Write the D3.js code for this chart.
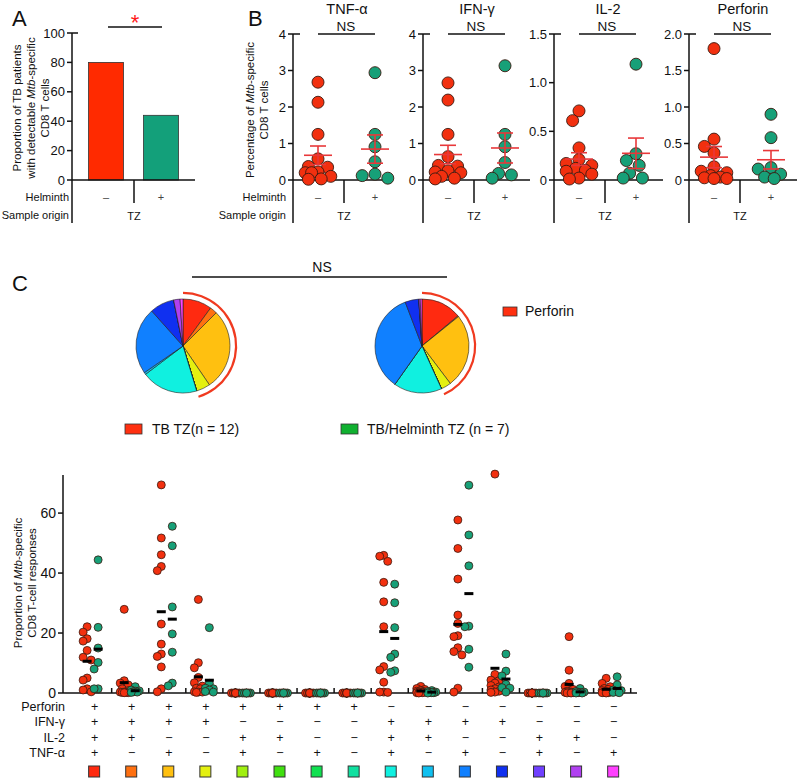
<!DOCTYPE html>
<html><head><meta charset="utf-8">
<script src="https://cdn.jsdelivr.net/npm/d3@7"></script>
<style>
body{margin:0;background:#fff}
text{font-family:"Liberation Sans",Arial,Helvetica,sans-serif;fill:#111}
</style>
</head><body>
<svg id="c" width="798" height="779"></svg>
<script>
// ---------------- DATA ----------------
const groups = ["–", "+"];
// Panel A
const aValues = [80, 44];
const aTicks = [0, 20, 40, 60, 80, 100];
// Panel B
const bPanels = ["TNF-α", "IFN-γ", "IL-2", "Perforin"];
const bMax = [4, 4, 1.5, 2.0];
const bTicks = [[0,1,2,3,4],[0,1,2,3,4],[0,0.5,1.0,1.5],[0,0.5,1.0,1.5,2.0]];
const bTickLabels = [["0","1","2","3","4"],["0","1","2","3","4"],["0","0.5","1.0","1.5"],["0","0.5","1.0","1.5","2.0"]];
const tnfTB  = [2.68,2.13,1.25,0.58,0.37,0.35,0.22,0.20,0.20,0.10,0.03,0.02];
const tnfHel = [2.94,1.25,0.91,0.50,0.16,0.12,0.05];
const ifnTB  = [2.66,2.19,1.25,0.64,0.40,0.38,0.25,0.22,0.20,0.10,0.05,0.03];
const ifnHel = [3.13,1.25,0.91,0.48,0.18,0.14,0.05];
const il2TB  = [0.71,0.61,0.33,0.21,0.17,0.15,0.12,0.10,0.09,0.06,0.02,0.01];
const il2Hel = [1.19,0.27,0.20,0.15,0.07,0.02,0.02];
const perTB  = [1.80,0.56,0.46,0.37,0.18,0.12,0.10,0.06,0.04,0.03,0.02,0.02];
const perHel = [0.90,0.58,0.17,0.15,0.08,0.04,0.02];
// Panel C pies (percent of response)
const pieTB  = [10.0,2.5,28.0,4.8,0,0,0,0,19.4,0.7,23.0,8.4,0,2.2,1.0];
const pieHel = [13.9,0.3,25.5,3.5,0,0,0,0,16.6,0,34.4,4.7,0,0.5,0.6];
// Panel C scatter: 15 combinations
const rowPerforin = ["+","+","+","+","+","+","+","+","−","−","−","−","−","−","−"];
const rowIFN      = ["+","+","+","+","−","−","−","−","+","+","+","+","−","−","−"];
const rowIL2      = ["+","+","−","−","+","+","−","−","+","+","−","−","+","+","−"];
const rowTNF      = ["+","−","+","−","+","−","+","−","+","−","+","−","+","−","+"];
const cTicks = [0, 20, 40, 60];
const tbData = [
  [22.1,20.3,18.1,17.3,14.2,11.9,11.0,5.0,4.3,1.4,1.0,0.4],
  [27.9,4.1,3.3,2.7,1.4,0.8,0.3,0.3,0.2,0.2,0.1,0.1],
  [69.4,51.7,46.1,42.2,40.8,23.0,16.3,13.0,12.2,8.7,1.4,0.4],
  [31.2,10.1,8.4,5.2,3.4,2.3,1.6,1.4,0.4,0.3,0.3,0.2],
  [0,0,0,0,0,0,0,0,0,0,0,0],
  [0,0,0,0,0,0,0,0,0,0,0,0],
  [0,0,0,0,0,0,0,0,0,0,0,0],
  [0,0,0,0,0,0,0,0,0,0,0,0],
  [45.9,45.6,43.9,36.9,30.4,22.1,8.8,7.7,3.6,0.3,0.3,0.2],
  [2.2,1.5,1.2,0.9,0.6,0.5,0.4,0.3,0.2,0.1,0.1,0.0],
  [57.7,48.2,38.0,26.0,23.2,19.1,18.8,15.1,13.8,12.7,1.6,0.3],
  [73.0,6.2,4.3,4.1,3.3,2.5,2.0,1.4,1.0,0.6,0.3,0.2],
  [0,0,0,0,0,0,0,0,0,0,0,0],
  [18.8,7.6,3.2,2.2,1.2,0.6,0.3,0.2,0.1,0.1,0,0],
  [4.9,3.2,2.1,1.5,1.2,0.8,0.5,0.3,0.2,0.1,0.1,0]
];
const helData = [
  [44.4,21.9,15.0,10.2,8.0,1.4,1.4],
  [2.1,1.0,0.7,0.6,0.4,0.3,0.2],
  [55.6,49.1,28.7,19.7,13.6,3.3,2.4],
  [21.8,3.2,1.6,1.4,1.0,0.5,0.3],
  [0,0,0,0,0,0,0],
  [0,0,0,0,0,0,0],
  [0,0,0,0,0,0,0],
  [0,0,0,0,0,0,0],
  [36.3,30.1,21.8,13.0,11.9,7.4,6.9],
  [0.8,0.5,0.3,0.2,0.1,0.1,0.0],
  [69.3,52.7,42.4,22.3,22.1,14.6,8.6],
  [13.0,7.3,5.7,2.9,1.8,1.6,0.3],
  [0,0,0,0,0,0,0],
  [1.5,0.5,0.3,0.2,0.1,0,0],
  [5.4,2.7,1.0,0.8,0.4,0.2,0.1]
];

// ---------------- STYLE ----------------
const catColors = ["#ff2a10","#ff7010","#ffc010","#e4f010","#a0f010","#40e010","#10e050","#10e0a0",
                   "#10f0e0","#10c0f0","#1080ff","#1030f0","#7040ff","#b040f0","#ff40ff"];
const RED = "#f2300f", GREEN = "#17a078", ERR = "#e8383a", DOTSTROKE = "#3a1a10", AX = "#111";

const svg = d3.select("#c");
function line(x1,y1,x2,y2,col,w){ return svg.append("line").attr("x1",x1).attr("y1",y1).attr("x2",x2).attr("y2",y2).attr("stroke",col||AX).attr("stroke-width",w||1.5); }
function txt(x,y,s,size,anchor){ return svg.append("text").attr("x",x).attr("y",y).attr("font-size",size).attr("text-anchor",anchor||"middle").text(s); }

function swarm(values, y, cx, r, step, maxK) {
  const placed = [], out = new Array(values.length);
  const order = values.map((v,i)=>i).sort((a,b)=>values[b]-values[a]);
  order.forEach(i => {
    const py = y(values[i]);
    let best = cx, bestD = -1;
    for (let k = 0; k <= maxK; k++) {
      for (const s of (k === 0 ? [0] : [-1, 1])) {
        const px = cx + s*k*step;
        let md = Infinity;
        placed.forEach(p => { md = Math.min(md, Math.hypot(p[0]-px, p[1]-py)); });
        if (md >= 2*r - 0.5) { best = px; bestD = Infinity; break; }
        if (md > bestD) { bestD = md; best = px; }
      }
      if (bestD === Infinity) break;
    }
    placed.push([best, py]); out[i] = [best, py];
  });
  return out;
}

// panel letters
txt(12,26,"A",22,"start");
txt(248,26,"B",22,"start");
txt(12,291,"C",22,"start");

// ---------------- PANEL A ----------------
{
  const ax = 72;
  const y = d3.scaleLinear().domain([0,100]).range([180,33]);
  const x = d3.scalePoint().domain(groups).range([106,161]);
  const bw = 35;
  svg.selectAll(".abar").data(aValues).join("rect")
    .attr("x",(d,i)=>x(groups[i])-bw/2).attr("width",bw)
    .attr("y",d=>y(d)).attr("height",d=>y(0)-y(d))
    .attr("fill",(d,i)=>i===0?"#ff2a00":"#13a07a").attr("stroke","#333").attr("stroke-width",0.8);
  line(ax,y(100),ax,223);
  aTicks.forEach(t=>{ line(ax-5,y(t),ax,y(t)); txt(ax-7,y(t)+4.5,String(t),13,"end"); });
  line(ax,y(100),ax+6,y(100));
  line(ax,180,195,180);
  line(134,180,134,203);
  groups.forEach(g=>txt(x(g),201,g,11,"middle").style("fill","#444"));
  txt(134,220,"TZ",11);
  txt(69,201,"Helminth",11,"end");
  txt(69,219,"Sample origin",11,"end");
  line(108,27,162,27);
  txt(135,30,"*",22).style("fill","#ff1a1a");
  const yt = svg.append("text").attr("transform","translate(0,108) rotate(-90)").attr("text-anchor","middle").attr("font-size",11.5);
  yt.append("tspan").attr("x",0).attr("y",21).text("Proportion of TB patients");
  yt.append("tspan").attr("x",0).attr("y",35).text("with detectable ");
  yt.append("tspan").attr("font-style","italic").text("Mtb");
  yt.append("tspan").text("-specific");
  yt.append("tspan").attr("x",0).attr("y",49).text("CD8 T cells");
}

// ---------------- PANEL B ----------------
{
  const axX = [293,423,554,689];
  const axLen = [96,107,109,108];
  const dataTB = [tnfTB, ifnTB, il2TB, perTB];
  const dataHel = [tnfHel, ifnHel, il2Hel, perHel];
  bPanels.forEach((name,i)=>{
    const ax = axX[i];
    const y = d3.scaleLinear().domain([0,bMax[i]]).range([180,34]);
    const x = d3.scalePoint().domain(groups).range([ax+25, ax+82]);
    line(ax,34,ax,223);
    bTicks[i].forEach((t,j)=>{ line(ax-5,y(t),ax,y(t)); txt(ax-7,y(t)+4.5,bTickLabels[i][j],13,"end"); });
    line(ax,34,ax+7,34);
    line(ax,180,ax+axLen[i],180);
    line(ax+51,180,ax+51,203);
    groups.forEach(g=>txt(x(g),201,g,11).style("fill","#444"));
    txt(ax+51,220,"TZ",11);
    txt(ax+54,14,name,14.5);
    txt(ax+53,31,"NS",13.5);
    line(x("–"),34,x("+"),34);
    [dataTB[i], dataHel[i]].forEach((vals,gi)=>{
      const pts = swarm(vals, y, x(groups[gi]), 6, 3.2, 4);
      svg.append("g").selectAll("circle").data(pts).join("circle")
        .attr("cx",d=>d[0]).attr("cy",d=>d[1]).attr("r",6)
        .attr("fill",gi===0?RED:GREEN).attr("stroke",DOTSTROKE).attr("stroke-width",0.9);
    });
    [dataTB[i], dataHel[i]].forEach((vals,gi)=>{
      const m = d3.mean(vals), se = d3.deviation(vals)/Math.sqrt(vals.length);
      const cx = x(groups[gi]);
      line(cx-14,y(m),cx+14,y(m),ERR,1.6);
      line(cx,y(m-se),cx,y(m+se),ERR,1.6);
      line(cx-8,y(m+se),cx+8,y(m+se),ERR,1.6);
      line(cx-8,y(m-se),cx+8,y(m-se),ERR,1.6);
    });
  });
  txt(286,201,"Helminth",11,"end");
  txt(286,219,"Sample origin",11,"end");
  const yt = svg.append("text").attr("transform","translate(0,110) rotate(-90)").attr("text-anchor","middle").attr("font-size",11.5);
  yt.append("tspan").attr("x",0).attr("y",254).text("Percentage of ");
  yt.append("tspan").attr("font-style","italic").text("Mtb");
  yt.append("tspan").text("-specific");
  yt.append("tspan").attr("x",0).attr("y",268).text("CD8 T cells");
}

// ---------------- PANEL C: pies ----------------
{
  line(192,277,447,277);
  txt(322,272,"NS",14);
  const pie = d3.pie().sort(null).value(d=>d);
  const arc = d3.arc().innerRadius(0).outerRadius(47);
  [[pieTB,183],[pieHel,422]].forEach(([vals,cx])=>{
    const g = svg.append("g").attr("transform",`translate(${cx},346)`);
    g.selectAll("path").data(pie(vals)).join("path")
      .attr("d",arc).attr("fill",(d,i)=>catColors[i]).attr("stroke","#222").attr("stroke-width",0.6);
    const tot = d3.sum(vals), perf = d3.sum(vals.slice(0,8));
    g.append("path").attr("d", d3.arc().innerRadius(52).outerRadius(54.2).startAngle(0).endAngle(2*Math.PI*perf/tot)())
      .attr("fill","#f03a20");
  });
  svg.append("rect").attr("x",503).attr("y",307).attr("width",14).attr("height",9).attr("fill","#ff3010").attr("stroke","#333").attr("stroke-width",0.8);
  txt(525,316,"Perforin",14,"start");
  svg.append("rect").attr("x",125).attr("y",424).attr("width",17).attr("height",10).attr("fill","#ff3010").attr("stroke","#333").attr("stroke-width",0.8);
  txt(152,434,"TB TZ(n = 12)",14,"start");
  svg.append("rect").attr("x",341).attr("y",424).attr("width",17).attr("height",10).attr("fill","#10b030").attr("stroke","#333").attr("stroke-width",0.8);
  txt(367,434,"TB/Helminth TZ (n = 7)",14,"start");
}

// ---------------- PANEL C: scatter ----------------
{
  const ax = 63;
  const y = d3.scaleLinear().domain([0,72.7]).range([693,475]);
  const x = d3.scaleBand().domain(d3.range(15)).range([74.6,630.7]);
  const xc = i => x(i) + x.bandwidth()/2;
  line(ax,475,ax,693);
  cTicks.forEach(t=>{ line(ax-5,y(t),ax,y(t)); txt(ax-7,y(t)+5,String(t),14,"end"); });
  line(ax,693,637,693);
  d3.range(1,16).forEach(k=>{ const bx = x.range()[0] + k*x.step(); line(bx,693,bx,688); });
  tbData.forEach((vals,i)=>{
    [[vals,-6,RED],[helData[i],5,GREEN]].forEach(([v,off,col])=>{
      const pts = swarm(v, y, xc(i)+off, 4, 2, 2);
      svg.append("g").selectAll("circle").data(pts).join("circle")
        .attr("cx",d=>d[0]).attr("cy",d=>d[1]).attr("r",4)
        .attr("fill",col).attr("stroke",DOTSTROKE).attr("stroke-width",0.8);
    });
  });
  tbData.forEach((vals,i)=>{
    [[vals,-6],[helData[i],5]].forEach(([v,off])=>{
      const m = d3.mean(v);
      if (m > 0) svg.append("rect").attr("x",xc(i)+off-4.5).attr("y",y(m)-1.5).attr("width",9).attr("height",3).attr("fill","#000");
    });
  });
  const yt = svg.append("text").attr("transform","translate(0,583) rotate(-90)").attr("text-anchor","middle").attr("font-size",11.5);
  yt.append("tspan").attr("x",0).attr("y",22).text("Proportion of ");
  yt.append("tspan").attr("font-style","italic").text("Mtb");
  yt.append("tspan").text("-specific");
  yt.append("tspan").attr("x",0).attr("y",36).text("CD8 T-cell responses");
  // table
  const rows = [["Perforin",rowPerforin,711],["IFN-γ",rowIFN,726],["IL-2",rowIL2,742],["TNF-α",rowTNF,757]];
  rows.forEach(([lab,vals,yy])=>{
    txt(65,yy,lab,12.5,"end");
    vals.forEach((s,i)=>txt(xc(i)+1.5,yy,s,12.5));
  });
  svg.append("g").selectAll("rect").data(catColors).join("rect")
    .attr("x",(d,i)=>xc(i)+1.5-6).attr("y",766).attr("width",11).attr("height",11)
    .attr("fill",d=>d).attr("stroke","#333").attr("stroke-width",1);
}
</script>
</body></html>
